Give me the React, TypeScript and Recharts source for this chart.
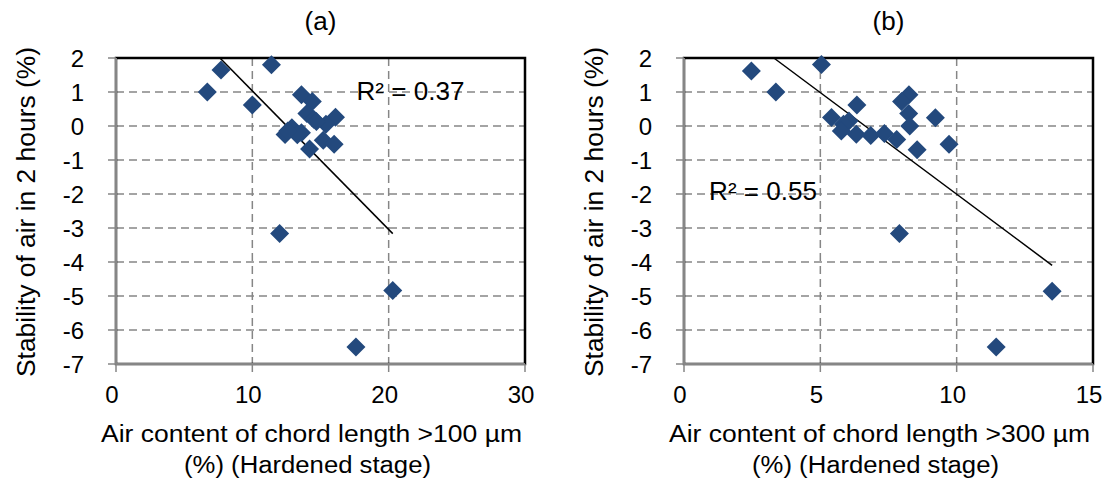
import React from 'react';
import {
  ScatterChart,
  Scatter,
  XAxis,
  YAxis,
  CartesianGrid,
  ReferenceArea,
  ReferenceDot,
  Label,
} from 'recharts';

const FONT = '"Liberation Sans", Arial, sans-serif';
const BLUE = '#23497d';
const GREY = '#868686';
const FS = 24;

// (a) air content, chord length >100 µm (%) vs. stability of air in 2 hours (%)
const xA = [6.7, 7.7, 11.4, 10.0, 13.6, 14.4, 14.0, 14.5, 16.1, 15.4, 12.4, 12.9, 13.6, 14.2, 15.2, 16.0, 12.0, 20.3, 17.6, 14.7, 13.3, 12.6];
const yA = [1.0, 1.65, 1.8, 0.62, 0.92, 0.72, 0.37, 0.2, 0.26, 0.05, -0.25, -0.05, -0.2, -0.68, -0.42, -0.54, -3.16, -4.84, -6.5, 0.13, -0.26, -0.15];

// (b) air content, chord length >300 µm (%)
const xB = [2.47, 3.37, 5.04, 6.34, 5.41, 6.05, 5.85, 5.77, 6.32, 6.85, 7.35, 7.8, 8.55, 8.25, 7.98, 8.24, 8.28, 9.22, 9.72, 7.9, 13.5, 11.45];
const yB = [1.62, 1.0, 1.81, 0.62, 0.25, 0.15, 0.05, -0.15, -0.24, -0.28, -0.22, -0.4, -0.7, 0.92, 0.72, 0.37, 0.0, 0.24, -0.54, -3.16, -4.86, -6.5];

const yTicks = [-7, -6, -5, -4, -3, -2, -1, 0, 1, 2];
const xTicksA = [0, 10, 20, 30];
const xTicksB = [0, 5, 10, 15];

const toPoints = (xs: number[], ys: number[]) => xs.map((x, i) => ({ x, y: ys[i] }));

// least squares line over the data range, cut where it leaves the top of the plot
function trendLine(xs: number[], ys: number[], yMax: number) {
  const n = xs.length;
  const mx = xs.reduce((a, b) => a + b, 0) / n;
  const my = ys.reduce((a, b) => a + b, 0) / n;
  let sxy = 0;
  let sxx = 0;
  for (let i = 0; i < n; i++) {
    sxy += (xs[i] - mx) * (ys[i] - my);
    sxx += (xs[i] - mx) ** 2;
  }
  const m = sxy / sxx;
  const b = my - m * mx;
  let x0 = Math.min(...xs);
  const x1 = Math.max(...xs);
  if (m * x0 + b > yMax) x0 = (yMax - b) / m;
  return [
    { x: x0, y: m * x0 + b },
    { x: x1, y: m * x1 + b },
  ];
}

const Diamond = (props: any) => {
  const { cx, cy } = props;
  const r = 9.5;
  return <path d={`M${cx},${cy - r}L${cx + r},${cy}L${cx},${cy + r}L${cx - r},${cy}Z`} fill={BLUE} />;
};

interface PanelProps {
  title: string;
  xTicks: number[];
  xLabel: string;
  xs: number[];
  ys: number[];
  r2: string;
  r2At: { x: number; y: number };
  left: number;
}

function Panel({ title, xTicks, xLabel, xs, ys, r2, r2At, left }: PanelProps) {
  const xMax = xTicks[xTicks.length - 1];
  const line = trendLine(xs, ys, 2);
  return (
    <div style={{ position: 'absolute', left, top: 0 }}>
      <ScatterChart width={560} height={480} margin={{ top: 58, right: 35, bottom: 76, left: 36 }}>
        <CartesianGrid stroke={GREY} strokeWidth={1.5} strokeDasharray="8 5" />
        <XAxis
          type="number"
          dataKey="x"
          domain={[0, xMax]}
          ticks={xTicks}
          interval={0}
          height={40}
          tickSize={8}
          tickMargin={14}
          axisLine={{ stroke: GREY, strokeWidth: 2 }}
          tickLine={{ stroke: GREY, strokeWidth: 1.5 }}
          tick={{ fill: '#000', fontSize: FS, fontFamily: FONT, dx: -4 }}
        >
          <Label
            content={({ viewBox }: any) => {
              const cx = viewBox.x + viewBox.width / 2 - 9;
              return (
                <g fontSize={23.5} fontFamily={FONT} fill="#000">
                  <text x={cx} y={viewBox.y + 78} textAnchor="middle" textLength={421} lengthAdjust="spacingAndGlyphs">
                    {xLabel}
                  </text>
                  <text x={cx - 4} y={viewBox.y + 109} textAnchor="middle" textLength={247} lengthAdjust="spacingAndGlyphs">
                    (%) (Hardened stage)
                  </text>
                </g>
              );
            }}
          />
        </XAxis>
        <YAxis
          type="number"
          dataKey="y"
          domain={[-7, 2]}
          ticks={yTicks}
          interval={0}
          width={80}
          tickSize={8}
          tickMargin={24}
          axisLine={{ stroke: GREY, strokeWidth: 2 }}
          tickLine={{ stroke: GREY, strokeWidth: 1.5 }}
          tick={{ fill: '#000', fontSize: FS, fontFamily: FONT }}
        >
          <Label
            content={({ viewBox }: any) => {
              const cx = viewBox.x + viewBox.width - 90;
              const cy = viewBox.y + viewBox.height / 2 + 1;
              return (
                <text
                  x={cx}
                  y={cy}
                  transform={`rotate(-90, ${cx}, ${cy})`}
                  textAnchor="middle"
                  dominantBaseline="central"
                  fontSize={25}
                  fontFamily={FONT}
                  fill="#000"
                  textLength={330}
                  lengthAdjust="spacingAndGlyphs"
                >
                  Stability of air in 2 hours (%)
                </text>
              );
            }}
          />
        </YAxis>
        <ReferenceArea
          x1={0}
          x2={xMax}
          y1={-7}
          y2={2}
          fill="none"
          stroke="#000"
          strokeWidth={2.5}
          label={{
            content: ({ viewBox }: any) => (
              <text
                x={viewBox.x + viewBox.width / 2}
                y={viewBox.y - 28}
                textAnchor="middle"
                fontSize={26}
                fontFamily={FONT}
                fill="#000"
              >
                {title}
              </text>
            ),
          }}
        />
        <Scatter
          data={line}
          line={{ stroke: '#000', strokeWidth: 1.5 }}
          shape={() => <g />}
          isAnimationActive={false}
        />
        <Scatter data={toPoints(xs, ys)} shape={<Diamond />} isAnimationActive={false} />
        <ReferenceDot
          x={r2At.x}
          y={r2At.y}
          r={0}
          fill="none"
          stroke="none"
          label={{
            content: ({ viewBox }: any) => (
              <text
                x={viewBox.x + viewBox.width / 2}
                y={viewBox.y + viewBox.height / 2}
                textAnchor="middle"
                dominantBaseline="central"
                fontSize={25}
                fontFamily={FONT}
                fill="#000"
                textLength={108}
                lengthAdjust="spacingAndGlyphs"
              >
                {r2}
              </text>
            ),
          }}
        />
      </ScatterChart>
    </div>
  );
}

export default function App() {
  return (
    <div style={{ position: 'absolute', left: 0, top: 0, width: 1107, height: 480, background: '#fff' }}>
      <Panel
        title="(a)"
        xTicks={xTicksA}
        xLabel="Air content of chord length >100 µm"
        xs={xA}
        ys={yA}
        r2="R² = 0.37"
        r2At={{ x: 21.6, y: 1.04 }}
        left={0}
      />
      <Panel
        title="(b)"
        xTicks={xTicksB}
        xLabel="Air content of chord length >300 µm"
        xs={xB}
        ys={yB}
        r2="R² = 0.55"
        r2At={{ x: 2.9, y: -1.9 }}
        left={567.5}
      />
    </div>
  );
}
